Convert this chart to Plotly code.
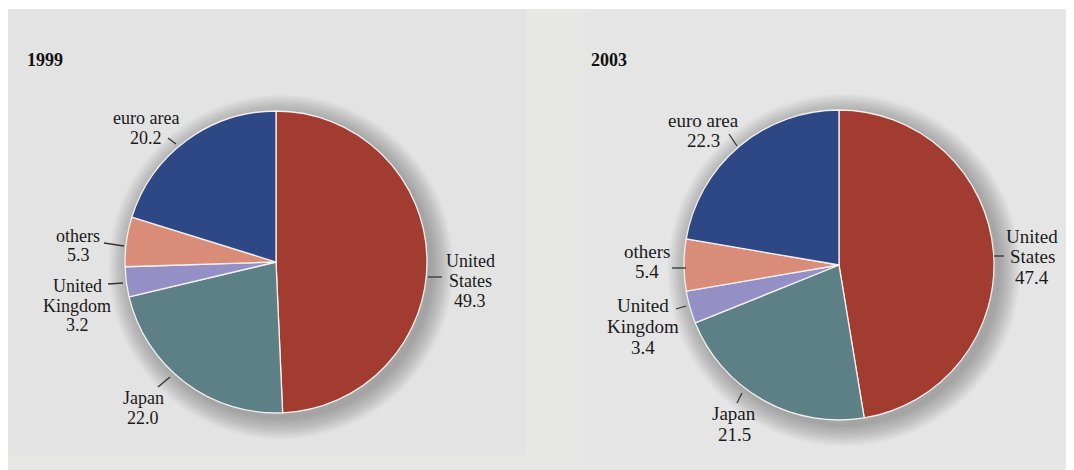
import plotly.graph_objects as go

# ---------------- data ----------------
countries = ["United States", "Japan", "United Kingdom", "others", "euro area"]
shares_1999 = [49.3, 22.0, 3.2, 5.3, 20.2]
shares_2003 = [47.4, 21.5, 3.4, 5.4, 22.3]
years = ["1999", "2003"]

colors = ["#A23B30", "#5C8086", "#9490C6", "#D98D78", "#2E4886"]

W, H = 1074, 470
OFF = 8  # page body margin in the browser
FONT = "Liberation Serif, Times New Roman, serif"

def px(x):
    return (x - OFF) / W

def py(y):
    return 1 - (y - OFF) / H

# pie geometry (pixels): center x, center y, radius
pies = [(276, 262, 151), (839, 265, 155)]

# label placement (pixels): text center x, first line y, line spacing, leader line
label_layout = [
    {   # 1999
        "United States": (470, 261, 20, (428, 277, 442, 277)),
        "Japan": (143, 398, 19.5, (158, 387, 170, 377)),
        "United Kingdom": (77, 286, 19.5, (108, 284, 123, 283)),
        "others": (78, 236, 19.5, (104, 243, 124, 246)),
        "euro area": (146, 118, 20, (168, 138, 176, 144)),
        "font": 18,
    },
    {   # 2003
        "United States": (1032, 236, 20.5, (994, 256, 1004, 256)),
        "Japan": (734, 413, 21, (737, 403, 742, 393)),
        "United Kingdom": (643, 305, 21, (676, 309, 686, 306)),
        "others": (647, 251, 20, (672, 268, 686, 268)),
        "euro area": (703, 120, 20.5, (729, 134, 737, 146)),
        "font": 19,
    },
]
title_pos = [(25, 60), (589, 60)]

fig = go.Figure()

shapes = []
# background
shapes.append(dict(type="rect", xref="paper", yref="paper", x0=px(8), x1=1.05, y0=-0.05, y1=py(9),
                   fillcolor="#E7E7E6", line=dict(width=0), layer="below"))
shapes.append(dict(type="rect", xref="paper", yref="paper", x0=px(8), x1=px(526), y0=py(455), y1=py(9),
                   fillcolor="#E3E3E3", line=dict(width=0), layer="below"))
shapes.append(dict(type="rect", xref="paper", yref="paper", x0=px(585), x1=1.05, y0=py(462), y1=py(9),
                   fillcolor="#E5E5E5", line=dict(width=0), layer="below"))

annotations = []

for i, (vals, (cx, cy, r)) in enumerate(zip([shares_1999, shares_2003], pies)):
    # soft shadow
    for k in range(18):
        rr = r + 1.2 * (k + 1)
        shapes.append(dict(type="circle", xref="paper", yref="paper",
                           x0=px(cx + 5 - rr), x1=px(cx + 5 + rr),
                           y0=py(cy + 5 + rr), y1=py(cy + 5 - rr),
                           fillcolor="rgba(0,0,0,0.016)", line=dict(width=0), layer="below"))
    fig.add_trace(go.Pie(
        labels=countries, values=vals, sort=False, direction="clockwise", rotation=0,
        marker=dict(colors=colors, line=dict(color="#F4F0EE", width=1.3)),
        textinfo="none", hoverinfo="label+value", showlegend=False,
        domain=dict(x=[px(cx - r), px(cx + r)], y=[py(cy + r), py(cy - r)]),
    ))
    lay = label_layout[i]
    fs = lay["font"]
    for name, v in zip(countries, vals):
        tx, ty, sp, (lx0, ly0, lx1, ly1) = lay[name]
        lines = name.split(" ") if name.startswith("United") else [name]
        lines = lines + [f"{v:.1f}"]
        for j, t in enumerate(lines):
            annotations.append(dict(x=px(tx), y=py(ty + j * sp), xref="paper", yref="paper",
                                    text=t, showarrow=False, xanchor="center", yanchor="middle",
                                    font=dict(family=FONT, size=fs, color="#1A1A1A")))
        shapes.append(dict(type="line", xref="paper", yref="paper",
                           x0=px(lx0), y0=py(ly0), x1=px(lx1), y1=py(ly1),
                           line=dict(color="#333333", width=1.3)))
    annotations.append(dict(x=px(title_pos[i][0]), y=py(title_pos[i][1]), xref="paper", yref="paper",
                            text=f"<b>{years[i]}</b>", showarrow=False, xanchor="left", yanchor="middle",
                            font=dict(family=FONT, size=18, color="#111111")))

fig.update_layout(
    width=W, height=H,
    margin=dict(l=0, r=0, t=0, b=0),
    paper_bgcolor="white", plot_bgcolor="white",
    shapes=shapes, annotations=annotations,
)

fig.write_html("out.html")
